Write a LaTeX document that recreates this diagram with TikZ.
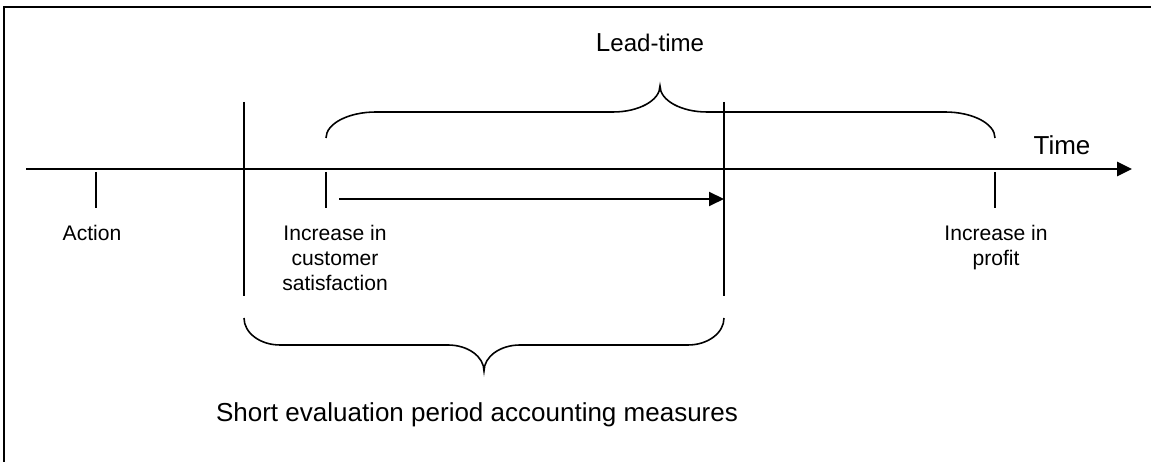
\documentclass[tikz,border=0pt]{standalone}
\usepackage{fontspec}
\setmainfont{Liberation Sans}
\usepackage{tikz}
\usetikzlibrary{arrows.meta}

\tikzset{
  eventtext/.style={font=\fontsize{12}{14.2}\selectfont, align=center, inner sep=0pt, anchor=north},
  bigtext/.style={font=\fontsize{14.8}{17}\selectfont, inner sep=0pt, anchor=base},
  tickline/.style={line width=1.1pt},
  bracepath/.style={line width=0.9pt},
  solidtip/.style={-{Triangle[length=0.3cm,width=0.28cm]}}
}

\begin{document}
\begin{tikzpicture}
\useasboundingbox (0,0) rectangle (23.02,9.24);

% frame (top and left edge only)
\draw [line width=1.1pt] (0.08,0) -- (0.08,9.10) -- (23.02,9.10);

% time axis
\coordinate (tstart) at (0.52,5.86);
\coordinate (tend) at (22.64,5.86);
\draw [solidtip, line width=1.6pt] (tstart) -- (tend);
\node (timelabel) at (21.24,6.14) [bigtext] {Time};

% events on the axis
\draw [tickline] (1.92,5.80) -- (1.92,5.08);
\draw [tickline] (6.52,5.80) -- (6.52,5.08);
\draw [tickline] (19.90,5.80) -- (19.90,5.08);

\node (action) at (1.84,4.74) [eventtext] {Action};
\node (satisfaction) at (6.70,4.74) [eventtext] {Increase in\\customer\\satisfaction};
\node (profit) at (19.92,4.74) [eventtext] {Increase in\\profit};

% evaluation period limits
\coordinate (periodltop) at (4.88,7.20);
\coordinate (periodlbot) at (4.88,3.32);
\coordinate (periodrtop) at (14.48,7.20);
\coordinate (periodrbot) at (14.48,3.32);
\draw [tickline] (periodltop) -- (periodlbot);
\draw [tickline] (periodrtop) -- (periodrbot);

% lag up to the end of the period
\coordinate (lagstart) at (6.78,5.26);
\draw [solidtip, line width=1.1pt] (lagstart) -- (lagstart -| periodrtop);

% brace over the lead-time
\draw [bracepath] (6.52,6.48)
  arc [start angle=180, end angle=90, x radius=1.00cm, y radius=0.52cm]
  -- (12.26,7.00)
  arc [start angle=270, end angle=360, x radius=0.94cm, y radius=0.52cm]
  arc [start angle=180, end angle=270, x radius=0.94cm, y radius=0.52cm]
  -- (18.90,7.00)
  arc [start angle=90, end angle=0, x radius=1.00cm, y radius=0.52cm];
\node (leadtime) at (13.00,8.20) [bigtext, font=\fontsize{13.7}{16}\selectfont] {{\fontsize{14.8}{17}\selectfont L}ead-time};

% brace under the evaluation period
\draw [bracepath] (periodlbot) ++(0,-0.44)
  arc [start angle=180, end angle=270, x radius=0.72cm, y radius=0.54cm]
  -- (8.96,2.34)
  arc [start angle=90, end angle=0, x radius=0.72cm, y radius=0.52cm]
  arc [start angle=180, end angle=90, x radius=0.72cm, y radius=0.52cm]
  -- (13.76,2.34)
  arc [start angle=270, end angle=360, x radius=0.72cm, y radius=0.54cm];
\node (shortterm) at (9.54,0.80) [bigtext] {Short evaluation period accounting measures};
\end{tikzpicture}
\end{document}
